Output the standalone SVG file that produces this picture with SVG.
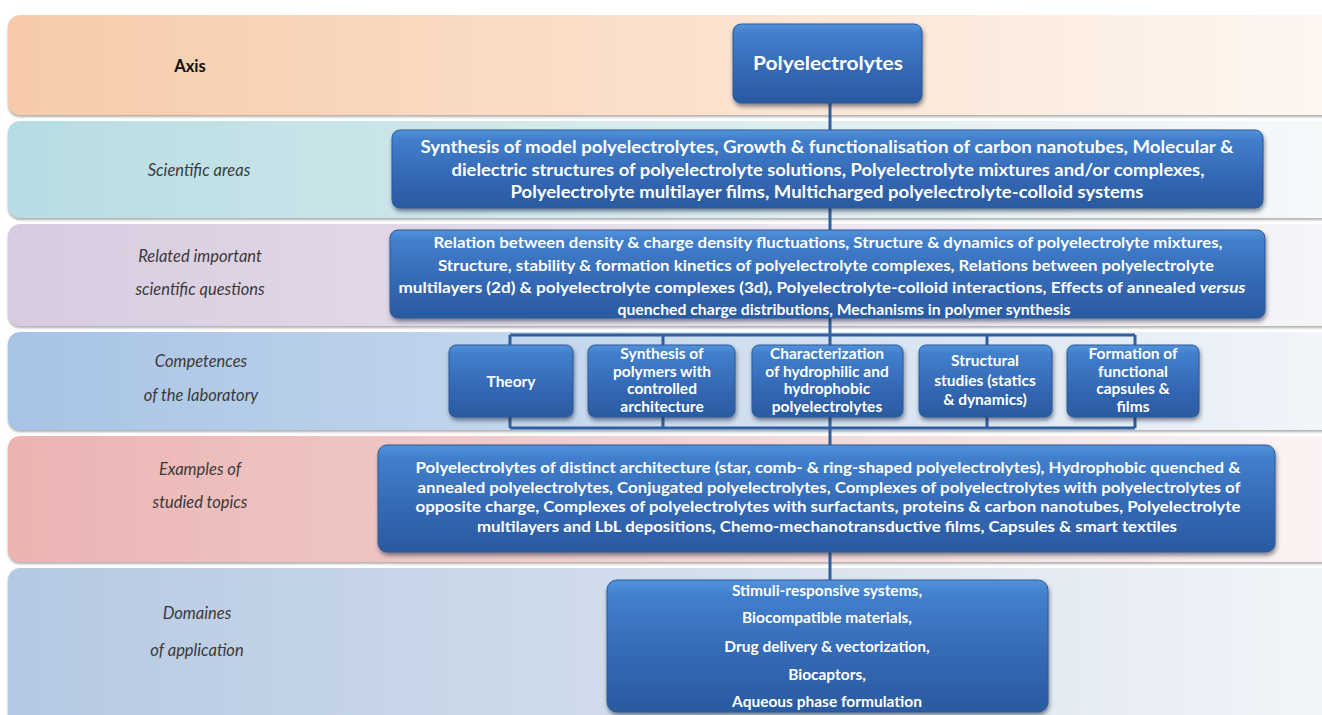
<svg xmlns="http://www.w3.org/2000/svg" width="1322" height="715" viewBox="0 0 1322 715">
<defs>
<linearGradient id="gAxis" x1="0" y1="0" x2="1" y2="0"><stop offset="0" stop-color="#f7cba9"/><stop offset="0.5" stop-color="#fbe1cd"/><stop offset="1" stop-color="#fdf7f2"/></linearGradient>
<linearGradient id="gSci" x1="0" y1="0" x2="1" y2="0"><stop offset="0" stop-color="#b7dce3"/><stop offset="0.5" stop-color="#d9ecef"/><stop offset="1" stop-color="#f6f9fa"/></linearGradient>
<linearGradient id="gRel" x1="0" y1="0" x2="1" y2="0"><stop offset="0" stop-color="#d8cbe0"/><stop offset="0.5" stop-color="#e8e1ed"/><stop offset="1" stop-color="#f7f5f8"/></linearGradient>
<linearGradient id="gComp" x1="0" y1="0" x2="1" y2="0"><stop offset="0" stop-color="#a7c3e5"/><stop offset="0.5" stop-color="#cbdcef"/><stop offset="1" stop-color="#f3f6fa"/></linearGradient>
<linearGradient id="gEx" x1="0" y1="0" x2="1" y2="0"><stop offset="0" stop-color="#ebb4b3"/><stop offset="0.5" stop-color="#f2d3d2"/><stop offset="1" stop-color="#fbf4f4"/></linearGradient>
<linearGradient id="gDom" x1="0" y1="0" x2="1" y2="0"><stop offset="0" stop-color="#b5c9e3"/><stop offset="0.5" stop-color="#d3deec"/><stop offset="1" stop-color="#f3f5f9"/></linearGradient>
<linearGradient id="gBox" x1="0" y1="0" x2="0" y2="1"><stop offset="0" stop-color="#5392da"/><stop offset="0.12" stop-color="#417fcc"/><stop offset="0.6" stop-color="#3468b4"/><stop offset="1" stop-color="#2a5aa0"/></linearGradient>
<filter id="bandSh" x="-2%" y="-10%" width="104%" height="125%"><feDropShadow dx="0" dy="2" stdDeviation="1.2" flood-color="#7a7a7a" flood-opacity="0.6"/></filter>
<filter id="boxSh" x="-5%" y="-10%" width="110%" height="130%"><feDropShadow dx="1" dy="3" stdDeviation="2" flood-color="#1a2a40" flood-opacity="0.55"/></filter>
<style>
.band{filter:url(#bandSh)}
.box{fill:url(#gBox);stroke:#2c5b9a;stroke-width:1;filter:url(#boxSh)}
.lbl{font-family:Lato,"Open Sans","Liberation Sans",sans-serif;font-style:italic;font-size:16.5px;fill:#3a3a3a;text-anchor:middle}
.bt{font-family:Lato,"Open Sans","Liberation Sans",sans-serif;font-weight:bold;fill:#ffffff;text-anchor:middle}
.ct{font-size:15.5px}
.conn{stroke:#2f5f9f;stroke-width:3;fill:none}
</style>
</defs>

<g id="bands">
<rect class="band" x="8" y="15" width="1330" height="100" rx="12" fill="url(#gAxis)"/>
<rect class="band" x="8" y="121" width="1330" height="97" rx="12" fill="url(#gSci)"/>
<rect class="band" x="8" y="224" width="1330" height="102" rx="12" fill="url(#gRel)"/>
<rect class="band" x="8" y="332" width="1330" height="98" rx="12" fill="url(#gComp)"/>
<rect class="band" x="8" y="436" width="1330" height="126" rx="12" fill="url(#gEx)"/>
<rect class="band" x="8" y="568" width="1330" height="160" rx="12" fill="url(#gDom)"/>
</g>

<g id="row-labels">
<text x="190" y="72" style="font-family:Lato,'Open Sans','Liberation Sans',sans-serif;font-weight:bold;font-size:16.5px;fill:#111;text-anchor:middle">Axis</text>
<text class="lbl" x="199" y="176">Scientific areas</text>
<text class="lbl" x="200" y="262">Related important</text>
<text class="lbl" x="200" y="295">scientific questions</text>
<text class="lbl" x="201" y="367">Competences</text>
<text class="lbl" x="201" y="401">of the laboratory</text>
<text class="lbl" x="200" y="475">Examples of</text>
<text class="lbl" x="200" y="508">studied topics</text>
<text class="lbl" x="197" y="619">Domaines</text>
<text class="lbl" x="197" y="656">of application</text>
</g>

<g id="connectors">
<line class="conn" x1="830" y1="100" x2="830" y2="132"/>
<line class="conn" x1="830" y1="206" x2="830" y2="232"/>
<line class="conn" x1="830" y1="316" x2="830" y2="447"/>
<path class="conn" d="M510,335 H1135 M510,428 H1135 M510,335 V428 M663,335 V428 M987,335 V428 M1135,335 V428"/>
<line class="conn" x1="830" y1="550" x2="830" y2="582"/>
</g>

<g id="node-polyelectrolytes">
<rect class="box" x="733" y="24" width="189" height="79" rx="8"/>
<text class="bt" x="828" y="70" font-size="18" textLength="150" lengthAdjust="spacingAndGlyphs">Polyelectrolytes</text>
</g>

<g id="node-scientific-areas">
<rect class="box" x="392" y="130" width="871" height="78" rx="8"/>
<text class="bt" font-size="16.5" x="827" y="153" textLength="813" lengthAdjust="spacingAndGlyphs">Synthesis of model polyelectrolytes, Growth &amp; functionalisation of carbon nanotubes, Molecular &amp;</text>
<text class="bt" font-size="16.5" x="828" y="176" textLength="753" lengthAdjust="spacingAndGlyphs">dielectric structures of polyelectrolyte solutions, Polyelectrolyte mixtures and/or complexes,</text>
<text class="bt" font-size="16.5" x="827" y="198" textLength="633" lengthAdjust="spacingAndGlyphs">Polyelectrolyte multilayer films, Multicharged polyelectrolyte-colloid systems</text>
</g>

<g id="node-questions">
<rect class="box" x="390" y="230" width="875" height="88" rx="8"/>
<text class="bt" font-size="14.5" x="828" y="248" textLength="789" lengthAdjust="spacingAndGlyphs">Relation between density &amp; charge density fluctuations, Structure &amp; dynamics of polyelectrolyte mixtures,</text>
<text class="bt" font-size="14.5" x="826" y="271" textLength="776" lengthAdjust="spacingAndGlyphs">Structure, stability &amp; formation kinetics of polyelectrolyte complexes, Relations between polyelectrolyte</text>
<text class="bt" font-size="14.5" x="822" y="293" textLength="847" lengthAdjust="spacingAndGlyphs">multilayers (2d) &amp; polyelectrolyte complexes (3d), Polyelectrolyte-colloid interactions, Effects of annealed <tspan font-style="italic">versus</tspan></text>
<text class="bt" font-size="14.5" x="844" y="315" textLength="453" lengthAdjust="spacingAndGlyphs">quenched charge distributions, Mechanisms in polymer synthesis</text>
</g>

<g id="node-theory">
<rect class="box" x="449" y="345" width="124" height="72" rx="7"/>
<text class="bt ct" x="511" y="387">Theory</text>
</g>
<g id="node-synthesis">
<rect class="box" x="588" y="345" width="147" height="72" rx="7"/>
<text class="bt ct" x="662" y="359">Synthesis of</text>
<text class="bt ct" x="662" y="377">polymers with</text>
<text class="bt ct" x="662" y="394">controlled</text>
<text class="bt ct" x="662" y="412">architecture</text>
</g>
<g id="node-characterization">
<rect class="box" x="752" y="345" width="151" height="72" rx="7"/>
<text class="bt ct" x="827" y="359">Characterization</text>
<text class="bt ct" x="827" y="377">of hydrophilic and</text>
<text class="bt ct" x="827" y="394">hydrophobic</text>
<text class="bt ct" x="827" y="412">polyelectrolytes</text>
</g>
<g id="node-structural">
<rect class="box" x="919" y="345" width="133" height="72" rx="7"/>
<text class="bt ct" x="985" y="366">Structural</text>
<text class="bt ct" x="985" y="386">studies (statics</text>
<text class="bt ct" x="985" y="405">&amp; dynamics)</text>
</g>
<g id="node-formation">
<rect class="box" x="1067" y="345" width="132" height="72" rx="7"/>
<text class="bt ct" x="1133" y="359">Formation of</text>
<text class="bt ct" x="1133" y="377">functional</text>
<text class="bt ct" x="1133" y="394">capsules &amp;</text>
<text class="bt ct" x="1133" y="412">films</text>
</g>

<g id="node-examples">
<rect class="box" x="378" y="445" width="897" height="107" rx="9"/>
<text class="bt" font-size="14.5" x="828" y="473" textLength="825" lengthAdjust="spacingAndGlyphs">Polyelectrolytes of distinct architecture (star, comb- &amp; ring-shaped polyelectrolytes), Hydrophobic quenched &amp;</text>
<text class="bt" font-size="14.5" x="829" y="493" textLength="823" lengthAdjust="spacingAndGlyphs">annealed polyelectrolytes, Conjugated polyelectrolytes, Complexes of polyelectrolytes with polyelectrolytes of</text>
<text class="bt" font-size="14.5" x="828" y="512" textLength="825" lengthAdjust="spacingAndGlyphs">opposite charge, Complexes of polyelectrolytes with surfactants, proteins &amp; carbon nanotubes, Polyelectrolyte</text>
<text class="bt" font-size="14.5" x="827" y="532" textLength="700" lengthAdjust="spacingAndGlyphs">multilayers and LbL depositions, Chemo-mechanotransductive films, Capsules &amp; smart textiles</text>
</g>

<g id="node-applications">
<rect class="box" x="607" y="580" width="441" height="132" rx="10"/>
<text class="bt" font-size="15.5" x="827" y="596">Stimuli-responsive systems,</text>
<text class="bt" font-size="15.5" x="827" y="623">Biocompatible materials,</text>
<text class="bt" font-size="15.5" x="827" y="652">Drug delivery &amp; vectorization,</text>
<text class="bt" font-size="15.5" x="827" y="680">Biocaptors,</text>
<text class="bt" font-size="15.5" x="827" y="707">Aqueous phase formulation</text>
</g>
</svg>
